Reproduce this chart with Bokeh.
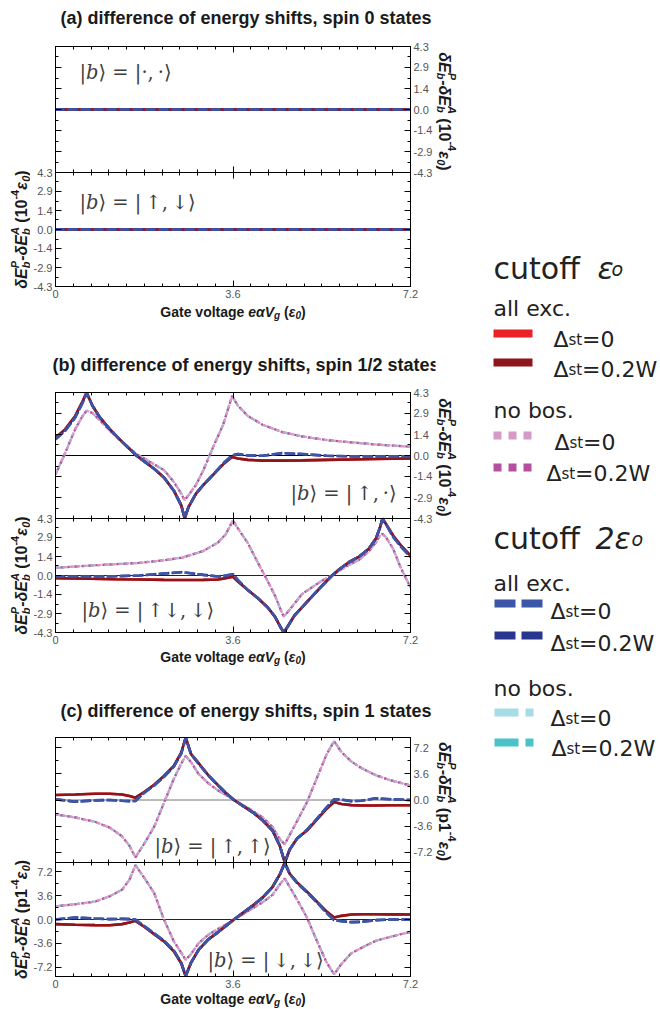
import math
from bokeh.plotting import figure
from bokeh.models import Range1d, LinearAxis, FixedTicker, PrintfTickFormatter, Label, Span, Div
from bokeh.layouts import row, column
from bokeh.embed import file_html
from bokeh.resources import INLINE

# ---------------- data ----------------
X_TICKS = [0.0, 3.6, 7.2]
X_TICK_LABELS = {0.0: "0", 3.6: "3.6", 7.2: "7.2"}
X_MINOR = [0.36, 0.72, 1.08, 1.44, 1.8, 2.16, 2.52, 2.88, 3.24,
           3.96, 4.32, 4.68, 5.04, 5.4, 5.76, 6.12, 6.48, 6.84]
Y_TICKS_AB = [-4.3, -2.9, -1.4, 0.0, 1.4, 2.9, 4.3]
Y_MINOR_AB = [-3.6, -2.15, -0.72, 0.72, 2.15, 3.6]
Y_TICKS_C = [-7.2, -3.6, 0.0, 3.6, 7.2]
Y_MINOR_C = [-5.4, -1.8, 1.8, 5.4]

# (a) spin 0 states: all curves on zero
XA = [0.0, 7.2]
A1_ALL = [0.0, 0.0]
A1_NOBOS = [0.0, 0.0]
A2_ALL = [0.0, 0.0]
A2_NOBOS = [0.0, 0.0]

# (b) top  |b> = |up, .>
XB1 = [0.0, 0.2, 0.4, 0.55, 0.63, 0.75, 0.9, 1.1, 1.3, 1.5, 1.64, 1.8, 2.0, 2.2, 2.4, 2.55,
       2.62, 2.7, 2.85, 3.0, 3.2, 3.4, 3.58, 3.7, 3.9, 4.2, 4.6, 5.0, 5.5, 6.0, 6.5, 7.2]
B1_ALL_E0 = [1.2, 1.8, 2.7, 3.7, 4.3, 3.4, 2.6, 1.8, 1.1, 0.45, 0.0, -0.4, -0.9, -1.5, -2.4, -3.4,
             -4.3, -3.5, -2.6, -2.0, -1.3, -0.6, -0.1, -0.2, -0.3, -0.35, -0.35, -0.33, -0.3, -0.27, -0.24, -0.2]
B1_ALL_2E0 = [1.1, 1.7, 2.6, 3.6, 4.25, 3.4, 2.6, 1.8, 1.1, 0.45, 0.0, -0.4, -0.9, -1.5, -2.4, -3.4,
              -4.25, -3.5, -2.6, -2.0, -1.3, -0.55, 0.0, 0.1, 0.0, -0.02, 0.16, 0.1, -0.02, -0.06, -0.06, -0.06]
B1_NOBOS = [-1.3, 0.2, 1.8, 2.7, 3.05, 2.9, 2.4, 1.7, 1.1, 0.5, 0.1, -0.2, -0.6, -1.0, -1.8, -2.6,
            -3.05, -2.7, -2.0, -1.0, 0.6, 2.1, 4.05, 3.4, 2.7, 2.1, 1.6, 1.3, 1.05, 0.9, 0.75, 0.6]

# (b) bottom  |b> = |updown, down>
XB2 = [0.0, 0.7, 1.2, 1.7, 2.2, 2.57, 3.0, 3.3, 3.45, 3.6, 3.7, 3.9, 4.1, 4.3, 4.45, 4.58, 4.63,
       4.7, 4.85, 5.0, 5.2, 5.4, 5.61, 5.75, 5.95, 6.15, 6.35, 6.5, 6.58, 6.63, 6.7, 6.85, 7.0, 7.2]
B2_ALL_E0 = [-0.2, -0.25, -0.28, -0.3, -0.33, -0.34, -0.33, -0.3, -0.2, -0.1, -0.45, -1.1, -1.7, -2.4,
             -3.1, -4.0, -4.3, -3.9, -3.0, -2.4, -1.6, -0.8, 0.0, 0.45, 1.0, 1.4, 2.0, 2.8, 3.6, 4.3,
             3.9, 3.0, 2.3, 1.5]
B2_ALL_2E0 = [-0.08, -0.08, -0.06, 0.0, 0.15, 0.25, 0.05, -0.08, 0.0, 0.1, -0.35, -1.1, -1.7, -2.4,
              -3.1, -4.0, -4.25, -3.9, -3.0, -2.4, -1.6, -0.8, 0.0, 0.45, 1.0, 1.4, 2.0, 2.8, 3.6, 4.25,
              3.9, 2.9, 2.2, 1.4]
B2_NOBOS = [0.58, 0.75, 0.85, 0.95, 1.15, 1.35, 1.85, 2.5, 3.1, 4.15, 3.55, 2.45, 1.0, -0.4,
            -1.5, -2.7, -3.1, -2.8, -2.1, -1.4, -0.9, -0.4, 0.0, 0.35, 0.8, 1.15, 1.8, 2.5, 3.0, 3.15,
            2.9, 2.0, 0.6, -0.9]

# (c) top  |b> = |up, up>
XC1 = [0.0, 0.4, 0.8, 1.1, 1.35, 1.5, 1.62, 1.8, 2.0, 2.2, 2.4, 2.55, 2.64, 2.75, 2.9, 3.1, 3.3, 3.45,
       3.62, 3.8, 4.0, 4.2, 4.4, 4.55, 4.65, 4.75, 4.9, 5.1, 5.3, 5.5, 5.65, 5.8, 6.0, 6.2, 6.5, 6.8, 7.2]
C1_ALL_E0 = [0.69, 0.75, 0.85, 0.87, 0.75, 0.55, 0.32, 1.1, 2.1, 3.3, 4.7, 6.5, 8.6, 6.3, 5.1, 3.4, 2.0, 1.0,
             0.0, -0.8, -1.7, -2.8, -4.2, -6.3, -8.6, -6.8, -5.3, -4.2, -2.7, -1.2, -0.28, -0.55, -0.7,
             -0.75, -0.75, -0.73, -0.73]
C1_ALL_2E0 = [0.1, -0.23, -0.05, 0.0, -0.1, -0.15, -0.14, 1.0, 2.0, 3.2, 4.6, 6.4, 8.5, 6.3, 5.0, 3.4, 2.0,
              1.0, 0.0, -0.8, -1.7, -2.8, -4.2, -6.3, -8.6, -6.8, -5.3, -4.1, -2.6, -1.0, 0.1, 0.05,
              -0.15, -0.1, 0.23, 0.1, 0.0]
C1_NOBOS = [-1.97, -2.4, -3.0, -3.8, -5.0, -6.3, -7.9, -6.0, -3.7, -0.4, 2.9, 5.0, 6.05, 5.2, 3.6, 2.3, 1.3,
            0.7, 0.0, -0.7, -1.5, -2.4, -3.7, -5.4, -6.1, -4.8, -2.9, -0.3, 3.0, 6.3, 8.1, 6.6, 5.3, 4.4,
            3.4, 2.7, 2.0]

# (c) bottom  |b> = |down, down>
XC2 = [0.0, 0.4, 0.8, 1.1, 1.35, 1.5, 1.62, 1.8, 2.0, 2.2, 2.4, 2.55, 2.64, 2.75, 2.9, 3.1, 3.3, 3.45,
       3.62, 3.8, 4.0, 4.2, 4.4, 4.55, 4.65, 4.75, 4.9, 5.1, 5.3, 5.5, 5.65, 5.8, 6.0, 6.2, 6.5, 6.8, 7.2]
C2_ALL_E0 = [-0.7, -0.8, -0.85, -0.86, -0.7, -0.45, -0.2, -1.1, -2.2, -3.3, -4.8, -6.6, -8.56, -6.5, -4.6,
             -3.0, -1.9, -1.0, 0.0, 1.0, 2.1, 3.3, 4.9, 6.8, 8.6, 6.9, 5.6, 4.2, 2.7, 1.2, 0.3, 0.55, 0.75,
             0.8, 0.8, 0.78, 0.75]
C2_ALL_2E0 = [0.0, 0.3, 0.15, 0.05, 0.1, 0.05, 0.0, -1.0, -2.1, -3.2, -4.7, -6.5, -8.5, -6.5, -4.6, -3.0,
              -1.9, -1.0, 0.0, 1.0, 2.1, 3.3, 4.9, 6.8, 8.5, 6.9, 5.5, 4.1, 2.6, 1.0, -0.1, -0.25, -0.4,
              -0.35, -0.1, 0.0, 0.0]
C2_NOBOS = [2.0, 2.3, 2.7, 3.5, 4.5, 6.0, 8.2, 6.3, 4.0, 0.0, -3.3, -5.0, -6.1, -5.2, -3.6, -2.3, -1.4,
            -0.8, 0.0, 0.8, 1.7, 2.6, 3.7, 5.3, 6.2, 4.9, 3.0, 0.3, -3.2, -6.5, -8.26, -6.7, -5.1, -4.3,
            -3.2, -2.6, -1.86]

TITLES = ["(a) difference of energy shifts, spin 0 states",
          "(b) difference of energy shifts, spin 1/2 states",
          "(c) difference of energy shifts, spin 1 states"]
EQ = "\u27e9 = |"
STATES = [EQ + "\u00b7,\u2009\u00b7\u27e9", EQ + "\u2009\u2191,\u2009\u2193\u27e9",
          EQ + "\u2009\u2191,\u2009\u00b7\u27e9", EQ + "\u2009\u2191\u2193,\u2009\u2193\u27e9",
          EQ + "\u2009\u2191,\u2009\u2191\u27e9", EQ + "\u2009\u2193,\u2009\u2193\u27e9"]
SUB = '<sub style="font-size:10px;vertical-align:-2px">'
XLABEL_HTML = f'Gate voltage <i>e\u03b1</i><i>V{SUB}g</sub></i> (<i>\u03b5{SUB}0</sub></i>)'

# ---------------- styles ----------------
C_RED0, C_RED2 = "#ec2027", "#8e1519"
C_BLUE0, C_BLUE2 = "#3b56a6", "#28368f"
C_PINK0, C_PINK2 = "#d69ac6", "#b6509e"
C_CYAN0, C_CYAN2 = "#a6dce6", "#4bc3c8"
FONT = "Liberation Sans"
LFONT = "DejaVu Sans"
TXT = "#1a1a1a"

W = {'δ': 0.611, 'E': 0.667, 'b': 0.611, 'P': 0.667, 'A': 0.722, '-': 0.333, ' ': 0.278, '\u00a0': 0.278,
     '(': 0.333, ')': 0.333, '1': 0.556, '0': 0.556, '4': 0.556, 'ε': 0.5, 'p': 0.611}


def tw(s, size):
    return sum(W.get(ch, 0.6) for ch in s) * size


def compose(p, ax, ay, pieces, dx0, dy0, theta):
    c, s = round(math.cos(theta)), round(math.sin(theta))
    total = sum(tw(t, sz) for t, sz, st, sh, adv in pieces if adv)
    pos = -total / 2.0
    for t, sz, st, sh, adv in pieces:
        p.add_layout(Label(x=ax, y=ay, x_offset=dx0 + pos * c - sh * s, y_offset=dy0 + pos * s + sh * c,
                           text=t, angle=theta, text_font_size=f"{sz}px", text_font_style=st,
                           text_font=FONT, text_color=TXT, text_align="left", text_baseline="alphabetic"))
        if adv:
            pos += tw(t, sz)


def energy_pieces(pref):
    M, S = 16, 11
    return [("δE", M, "bold italic", 0, True), ("b", S, "bold italic", -4, False),
            ("P", S, "bold italic", 7, True), ("-δE", M, "bold italic", 0, True),
            ("b", S, "bold italic", -4, False), ("A", S, "bold italic", 7, True),
            ("\u00a0(" + pref, M, "bold", 0, True), ("-4", S, "bold", 7, True),
            ("ε", M, "bold italic", 0, True), ("0", S, "bold italic", -4, True),
            (")", M, "bold", 0, True)]


def text_fig(w, h):
    f = figure(width=w, height=h, x_range=Range1d(0, w), y_range=Range1d(h, 0), output_backend="svg",
               toolbar_location=None, x_axis_location=None, y_axis_location=None, min_border=0)
    f.grid.visible = False
    f.outline_line_color = None
    f.border_fill_color = "white"
    f.background_fill_color = "white"
    return f


def html_div(w, h, inner, cx, cy, size, lh):
    html = (f'<div style="position:relative;width:{w}px;height:{h}px;margin:0;padding:0;overflow:visible;">'
            f'<span style="position:absolute;left:{cx}px;top:{cy - lh / 2}px;transform:translateX(-50%);'
            f'white-space:nowrap;font-family:\'Liberation Sans\',Arial,sans-serif;font-weight:bold;'
            f'font-size:{size}px;line-height:{lh}px;color:{TXT};">{inner}</span></div>')
    return Div(text=html, width=w, height=h, margin=0)


def style_axis(ax, labelled, tin=6, tout=0, mtin=3, mtout=0):
    ax.major_tick_in = tin
    ax.major_tick_out = tout
    ax.minor_tick_in = mtin
    ax.minor_tick_out = mtout
    ax.axis_line_color = "black"
    ax.major_tick_line_color = "black"
    ax.minor_tick_line_color = "black"
    ax.axis_label_standoff = 0
    if labelled:
        ax.major_label_text_font_size = "11px"
        ax.major_label_text_color = "#555555"
        ax.major_label_text_font = FONT
        ax.major_label_standoff = 3
    else:
        ax.major_label_text_font_size = "0px"
        ax.major_label_standoff = 0
        ax.major_label_text_alpha = 0
    return ax


def yaxis(ticks, minor, R, rng, labelled):
    ax = LinearAxis(ticker=FixedTicker(ticks=ticks, minor_ticks=minor), y_range_name=rng, bounds=(-R, R))
    if labelled:
        ax.formatter = PrintfTickFormatter(format="%.1f")
    return style_axis(ax, labelled)


def xaxis(labelled, fixed=None):
    ax = LinearAxis(ticker=FixedTicker(ticks=X_TICKS, minor_ticks=X_MINOR))
    if labelled:
        ax.major_label_overrides = X_TICK_LABELS
    if fixed is not None:
        ax.fixed_location = fixed
        return style_axis(ax, False, 6, 6, 3, 3)
    return style_axis(ax, labelled)


def build_panel(R, yticks, yminor, ht, hb, bt, bb):
    H = ht + hb
    p = figure(frame_width=355, frame_height=H, x_range=Range1d(0, 7.2),
               y_range=Range1d(R - 2 * R * H / ht, R),
               output_backend="svg", toolbar_location=None, x_axis_location=None, y_axis_location=None,
               min_border_left=23, min_border_right=24, min_border_top=bt, min_border_bottom=bb)
    p.extra_y_ranges = {"bot": Range1d(-R, -R + 2 * R * H / hb)}
    p.grid.visible = False
    p.outline_line_color = "black"
    p.background_fill_color = "white"
    p.border_fill_color = "white"
    p.add_layout(yaxis(yticks, yminor, R, "default", False), "left")
    p.add_layout(yaxis(yticks, yminor, R, "bot", True), "left")
    p.add_layout(yaxis(yticks, yminor, R, "bot", False), "right")
    p.add_layout(yaxis(yticks, yminor, R, "default", True), "right")
    p.add_layout(xaxis(False), "above")
    p.add_layout(xaxis(False, fixed=-R), "above")
    p.add_layout(xaxis(True), "below")
    return p


def draw_curves(p, rng, x, all_e0, all_2e0, nobos, zero_line, zero_color):
    if zero_line:
        p.add_layout(Span(location=0, dimension="width", line_color=zero_color, line_width=1,
                          level="underlay", y_range_name=rng))
    kw = dict(y_range_name=rng)
    p.line(x, nobos, line_color=C_CYAN2, line_width=2.2, line_dash="8 3 2 3", **kw)
    p.line(x, nobos, line_color=C_CYAN0, line_width=2.2, line_dash="8 3 2 3", **kw)
    p.line(x, nobos, line_color=C_PINK2, line_width=2.2, line_dash="4 3", line_dash_offset=2, **kw)
    p.line(x, nobos, line_color=C_PINK0, line_width=2.2, line_dash="4 3", **kw)
    p.line(x, all_e0, line_color=C_RED0, line_width=2.6, **kw)
    p.line(x, all_e0, line_color=C_RED2, line_width=2.6, **kw)
    p.line(x, all_2e0, line_color=C_BLUE2, line_width=2.6, line_dash="10 3", **kw)
    p.line(x, all_2e0, line_color=C_BLUE0, line_width=2.6, line_dash="10 3", line_dash_offset=1, **kw)


def state_label(p, R, rng, dx, dy, rest):
    kw = dict(text_font="DejaVu Serif", text_font_size="19.5px", text_color="#404040",
              text_baseline="middle", text_align="left", x=0, y=R, y_offset=dy, y_range_name=rng)
    p.add_layout(Label(text="|", x_offset=dx, **kw))
    p.add_layout(Label(text="b", x_offset=dx + 6.5, text_font_style="italic", **kw))
    p.add_layout(Label(text=rest, x_offset=dx + 19, **kw))


# layout numbers (pixels)
GUT_W, MID_W, RIGHT_W = 30, 402, 228
TOTAL_H = 1009

panels = [
    dict(title=TITLES[0], R=4.3, yt=Y_TICKS_AB, ym=Y_MINOR_AB, pref="10", ht=126, hb=114,
         title_h=37, title_y=18, xl_h=17, xl_y=9,
         top=(XA, A1_ALL, A1_ALL, A1_NOBOS), bot=(XA, A2_ALL, A2_ALL, A2_NOBOS), zero=False,
         st_top=(24, -26, STATES[0]), st_bot=(24, -30, STATES[1]), right_c=111, left_c=229),
    dict(title=TITLES[1], R=4.3, yt=Y_TICKS_AB, ym=Y_MINOR_AB, pref="10", ht=126, hb=114,
         title_h=63, title_y=45, xl_h=16, xl_y=8,
         top=(XB1, B1_ALL_E0, B1_ALL_2E0, B1_NOBOS), bot=(XB2, B2_ALL_E0, B2_ALL_2E0, B2_NOBOS), zero=True,
         st_top=(235, -101, STATES[2]), st_bot=(26, -92, STATES[3]), right_c=457, left_c=575),
    dict(title=TITLES[2], R=8.6, yt=Y_TICKS_C, ym=Y_MINOR_C, pref="p1", ht=125, hb=114,
         title_h=63, title_y=46, xl_h=16, xl_y=6.5,
         top=(XC1, C1_ALL_E0, C1_ALL_2E0, C1_NOBOS), bot=(XC2, C2_ALL_E0, C2_ALL_2E0, C2_NOBOS), zero=True,
         st_top=(99, -109, STATES[4]), st_bot=(152, -98, STATES[5]), right_c=801, left_c=919),
]

gutter = text_fig(GUT_W, TOTAL_H)
right = text_fig(RIGHT_W, TOTAL_H)

blocks = []
for i, pn in enumerate(panels):
    R = pn["R"]
    tdiv = html_div(MID_W, pn["title_h"], pn["title"], 216, pn["title_y"], 18, 20)
    p = build_panel(R, pn["yt"], pn["ym"], pn["ht"], pn["hb"], 9, 17)
    draw_curves(p, "default", *pn["top"], zero_line=pn["zero"], zero_color="#777777" if i == 2 else "black")
    draw_curves(p, "bot", *pn["bot"], zero_line=pn["zero"], zero_color="#222222")
    state_label(p, R, "default", *pn["st_top"])
    state_label(p, R, "bot", *pn["st_bot"])
    xdiv = html_div(MID_W, pn["xl_h"], XLABEL_HTML, 203, pn["xl_y"], 14, 15)
    compose(right, 9, pn["right_c"], energy_pieces(pn["pref"]), 0, 0, -math.pi / 2)
    compose(gutter, 21, pn["left_c"], energy_pieces(pn["pref"]), 0, 0, math.pi / 2)
    blocks += [tdiv, p, xdiv]

# ---------------- legend (in the right-hand column) ----------------
RX = 432  # page x where the right column starts


def ltxt(x, y, text, size, style="normal"):
    right.add_layout(Label(x=x - RX, y=y, text=text, text_font=LFONT, text_font_size=f"{size}px",
                           text_font_style=style, text_color="#222222", text_baseline="alphabetic",
                           text_align="left"))


LEG_GROUPS = [("cutoff", "ε", 594, 608, 268), ("cutoff", "2ε", 592, 628, 538)]
LEG_HEAD = [("all exc.", 308), ("no bos.", 410), ("all exc.", 583), ("no bos.", 688)]
LEG_ROWS = [
    # colour, dash, swatch x0, x1, swatch y, text x, text baseline, label tail
    (C_RED0, "solid", 490, 529, 333, 550, 339, "=0"),
    (C_RED2, "solid", 490, 529, 362, 550, 369, "=0.2W"),
    (C_PINK0, "8 7", 490, 529, 435, 551, 442, "=0"),
    (C_PINK2, "8 7", 490, 529, 467, 543, 473, "=0.2W"),
    (C_BLUE0, "21 6", 491, 539, 603, 547, 611, "=0"),
    (C_BLUE2, "21 6", 491, 539, 635, 547, 643, "=0.2W"),
    (C_CYAN0, "24 7 8 7", 491, 530, 712, 547, 718, "=0"),
    (C_CYAN2, "24 7 8 7", 491, 530, 742, 548, 748, "=0.2W"),
]
for word, greek, gx, ox, by in LEG_GROUPS:
    ltxt(490, by, word, 30)
    ltxt(gx, by, greek, 30, "italic")
    ltxt(ox, by, "o", 19, "italic")
for text, by in LEG_HEAD:
    ltxt(490, by, text, 22)
for col, dash, x0, x1, sy, tx, tb, tail in LEG_ROWS:
    right.line([x0 - RX, x1 - RX], [sy, sy], line_color=col, line_width=8, line_dash=dash, line_cap="butt")
    ltxt(tx, tb, "Δ", 22)
    ltxt(tx + 15, tb, "st", 15)
    ltxt(tx + 28.5, tb, tail, 22)

layout = row(gutter, column(*blocks, spacing=0), right, spacing=0)
open("out.html", "w").write(file_html(layout, INLINE))
